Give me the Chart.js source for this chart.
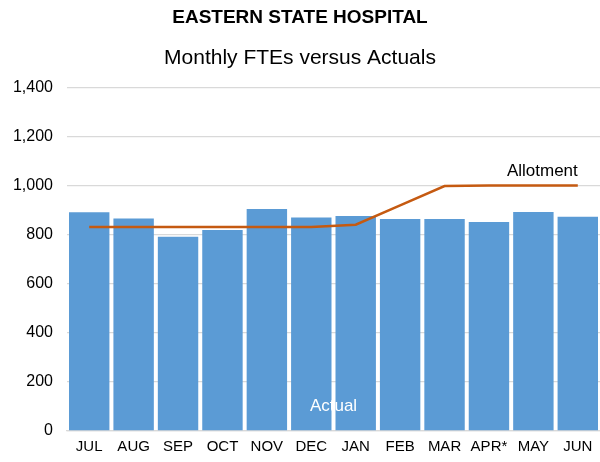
<!DOCTYPE html>
<html>
<head>
<meta charset="utf-8">
<script src="https://cdn.jsdelivr.net/npm/chart.js@4"></script>
<style>
  html, body { margin: 0; padding: 0; background: #fff; }
  #wrap { width: 600px; height: 462px; position: relative; }
</style>
</head>
<body>
<div id="wrap"><canvas id="fteChart"></canvas></div>
<script>
// Eastern State Hospital - monthly FTEs vs actuals
const months = ['JUL', 'AUG', 'SEP', 'OCT', 'NOV', 'DEC', 'JAN', 'FEB', 'MAR', 'APR*', 'MAY', 'JUN'];
const actual = [893, 867, 793, 820, 906, 871, 878, 865, 865, 853, 894, 875];
const allotment = [833, 833, 833, 833, 833, 833, 842, 921, 1000, 1002, 1002, 1002];

const fontFam = "'Liberation Sans', Arial, sans-serif";

// in-chart series labels (Excel style data labels instead of a legend)
const seriesLabels = {
    id: 'seriesLabels',
    afterDatasetsDraw(chart) {
        const ctx = chart.ctx;
        const x = chart.scales.x;
        const y = chart.scales.y;
        ctx.save();
        ctx.font = '17px ' + fontFam;
        ctx.textBaseline = 'middle';
        ctx.fillStyle = '#000';
        ctx.textAlign = 'right';
        ctx.fillText('Allotment', x.getPixelForValue(11), y.getPixelForValue(1002) - 14);
        ctx.fillStyle = '#fff';
        ctx.textAlign = 'center';
        ctx.fillText('Actual', (x.getPixelForValue(5) + x.getPixelForValue(6)) / 2, y.getPixelForValue(100));
        ctx.restore();
    }
};

new Chart(document.getElementById('fteChart'), {
    type: 'bar',
    data: {
        labels: months,
        datasets: [{
            type: 'line',
            label: 'Allotment',
            data: allotment,
            borderColor: '#c55a11',
            borderWidth: 2.5,
            pointRadius: 0,
            tension: 0,
            order: 0
        }, {
            label: 'Actual',
            data: actual,
            backgroundColor: '#5b9bd5',
            barPercentage: 0.91,
            categoryPercentage: 1,
            order: 1
        }]
    },
    options: {
        responsive: true,
        maintainAspectRatio: false,
        animation: false,
        layout: { padding: { top: 4, right: 0, left: 0, bottom: 0 } },
        scales: {
            y: {
                min: 0,
                max: 1400,
                ticks: {
                    stepSize: 200,
                    color: '#000',
                    font: { size: 16, family: fontFam },
                    padding: 14
                },
                grid: { color: '#d9d9d9', lineWidth: 1.3, drawTicks: false },
                border: { display: false },
                afterFit(scale) { scale.width = 67; }
            },
            x: {
                ticks: {
                    color: '#000',
                    font: { size: 15, family: fontFam },
                    padding: 6.5,
                    maxRotation: 0,
                    autoSkip: false
                },
                grid: { display: false, drawTicks: false },
                border: { display: true, color: '#d9d9d9', width: 1.3 }
            }
        },
        plugins: {
            legend: { display: false },
            tooltip: { enabled: false },
            title: {
                display: true,
                text: 'EASTERN STATE HOSPITAL',
                color: '#000',
                font: { size: 19, weight: 'bold', family: fontFam },
                padding: { top: 2, bottom: 17 }
            },
            subtitle: {
                display: true,
                text: 'Monthly FTEs versus Actuals',
                color: '#000',
                font: { size: 21, family: fontFam },
                padding: { bottom: 17 }
            }
        }
    },
    plugins: [seriesLabels]
});
</script>
</body>
</html>
